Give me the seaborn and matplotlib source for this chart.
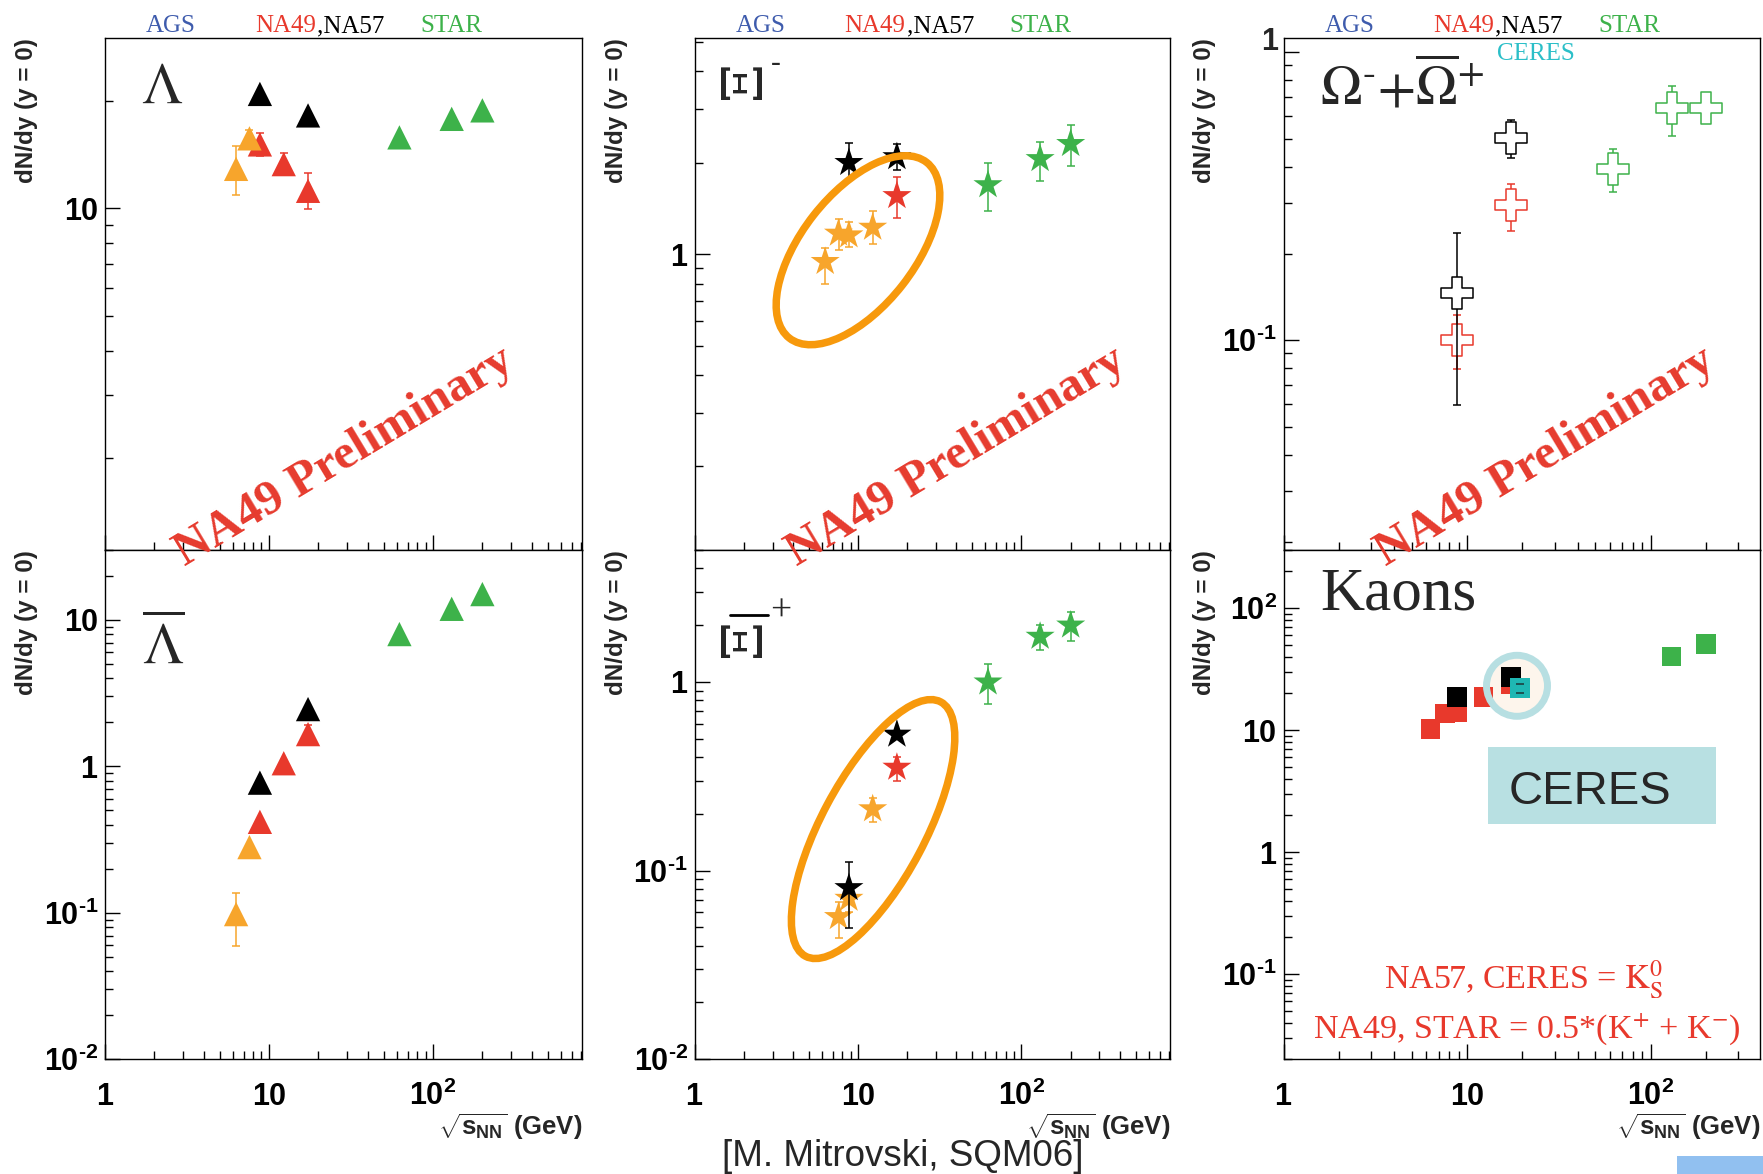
import numpy as np
import pandas as pd
import matplotlib
matplotlib.use("Agg")
import matplotlib.pyplot as plt
import matplotlib.transforms as mtransforms
from matplotlib.patches import Ellipse, Rectangle
from matplotlib.lines import Line2D
from matplotlib.ticker import LogLocator, NullFormatter, FuncFormatter
import seaborn as sns

# ---------------------------------------------------------------- data
# collision energy sqrt(s_NN) in GeV
E_NA57 = [8.8, 17.3]
E_NA49 = [8.8, 12.3, 17.3]
E_STAR = [62.4, 130.0, 200.0]

# Lambda
LAM_NA57 = [20.9, 18.2]
LAM_NA49 = [15.1, 13.3, 11.2]
LAM_NA49_LO = [14.0, 12.4, 9.95]
LAM_NA49_HI = [16.2, 14.3, 12.6]
LAM_NEW_E = [6.3, 7.6]
LAM_NEW = [12.9, 15.7]
LAM_NEW_LO = [10.9, 14.8]
LAM_NEW_HI = [14.97, 16.6]
LAM_STAR = [15.8, 17.8, 18.8]

# anti-Lambda
ALAM_NA57 = [0.774, 2.46]
ALAM_NA49 = [0.418, 1.05, 1.66]
ALAM_NA49_LO = [0.418, 1.05, 1.45]
ALAM_NA49_HI = [0.418, 1.05, 1.93]
ALAM_NEW_E = [6.3, 7.6]
ALAM_NEW = [0.098, 0.281]
ALAM_NEW_LO = [0.0597, 0.281]
ALAM_NEW_HI = [0.137, 0.281]
ALAM_STAR = [8.0, 11.9, 15.0]

# Xi-
XI_NA57 = [2.0, 2.09]
XI_NA57_LO = [1.75, 1.9]
XI_NA57_HI = [2.33, 2.3]
XI_NA49_E = [17.3]
XI_NA49 = [1.556]
XI_NA49_LO = [1.32]
XI_NA49_HI = [1.79]
XI_NEW_E = [6.3, 7.6, 8.8, 12.3]
XI_NEW = [0.944, 1.17, 1.155, 1.224]
XI_NEW_LO = [0.797, 1.03, 1.055, 1.08]
XI_NEW_HI = [1.05, 1.31, 1.28, 1.39]
XI_STAR = [1.69, 2.06, 2.31]
XI_STAR_LO = [1.39, 1.74, 1.95]
XI_STAR_HI = [1.99, 2.34, 2.66]

# anti-Xi+
AXI_NA57 = [0.081, 0.527]
AXI_NA57_LO = [0.0494, 0.527]
AXI_NA57_HI = [0.111, 0.527]
AXI_NA49_E = [17.3]
AXI_NA49 = [0.352]
AXI_NA49_LO = [0.299]
AXI_NA49_HI = [0.399]
AXI_NEW_E = [7.6, 8.8, 12.3]
AXI_NEW = [0.0569, 0.0711, 0.212]
AXI_NEW_LO = [0.0441, 0.060, 0.181]
AXI_NEW_HI = [0.068, 0.083, 0.242]
AXI_STAR = [0.996, 1.74, 1.995]
AXI_STAR_LO = [0.76, 1.48, 1.65]
AXI_STAR_HI = [1.25, 2.0, 2.34]

# Omega- + anti-Omega+
OM_NA57 = [0.1465, 0.502]
OM_NA57_LO = [0.0597, 0.43]
OM_NA57_HI = [0.235, 0.583]
OM_NA49_E = [8.8, 17.3]
OM_NA49 = [0.100, 0.294]
OM_NA49_LO = [0.0797, 0.239]
OM_NA49_HI = [0.122, 0.348]
OM_STAR = [0.392, 0.641, 0.641]
OM_STAR_LO = [0.327, 0.513, 0.641]
OM_STAR_HI = [0.461, 0.761, 0.641]

# kaons
K_NA49_E = [6.3, 7.6, 8.8, 12.3, 17.3]
K_NA49 = [10.2, 13.7, 14.1, 18.7, 23.6]
K_NA57 = [18.7, 27.2]
K_CERES_E = [19.4]
K_CERES = [22.2]
K_CERES_LO = [20.0]
K_CERES_HI = [23.8]
K_STAR_E = [130.0, 200.0]
K_STAR = [40.0, 51.0]

# highlight shapes (centre in data units, size in pixels, angle in degrees)
XI_RING = (10.0, 1.03, 223, 113, 52)
AXI_RING = (12.37, 0.166, 288, 104, 62)
CERES_SPOT = (18.7, 23.1, 61)

X_TICK_LABELS = {0: "1", 1: "10"}

# ---------------------------------------------------------------- style
sns.set_theme(style="ticks")
plt.rcParams.update({
    "font.family": ["Liberation Sans", "DejaVu Sans"],
    "mathtext.fontset": "custom",
    "mathtext.rm": "Liberation Sans:bold",
    "mathtext.it": "Liberation Sans:bold",
    "mathtext.bf": "Liberation Sans:bold",
    "mathtext.sf": "Liberation Sans:bold",
    "axes.edgecolor": "black",
    "axes.linewidth": 1.0,
    "xtick.color": "black",
    "ytick.color": "black",
    "axes.facecolor": "white",
    "figure.facecolor": "white",
})

RED = "#e8392c"
ORANGE = "#f7a52c"
GREEN = "#3db24a"
CYAN = "#1fb7b3"
BLUE = "#3f5cad"
RING = "#f7990c"

W, H, DPI = 1763, 1174, 100
fig = plt.figure(figsize=(W / DPI, H / DPI), dpi=DPI)


def fx(px):
    return px / W


def fy(py):
    return 1 - py / H


COLS = [(105.0, 582.0), (694.5, 1170.0), (1283.5, 1760.0)]
ROWS = [(38.3, 550.0), (550.0, 1059.3)]
XMAX = [810.0, 810.0, 394.0]


def make_axes(col, row, ylim):
    x0, x1 = COLS[col]
    y0, y1 = ROWS[row]
    ax = fig.add_axes([fx(x0), fy(y1), (x1 - x0) / W, (y1 - y0) / H])
    ax.set_xscale("log")
    ax.set_yscale("log")
    ax.set_xlim(1.0, XMAX[col])
    ax.set_ylim(*ylim)
    return ax


def tick_text(v, pos):
    e = int(round(np.log10(v)))
    if e in X_TICK_LABELS:
        return "$%s$" % X_TICK_LABELS[e]
    if e < 0:
        return r"$10^{\text{-}%d}$" % (-e)
    return "$10^{%d}$" % e


def style_axes(ax, col, row):
    for axis in (ax.xaxis, ax.yaxis):
        axis.set_major_locator(LogLocator(base=10, numticks=30))
        axis.set_minor_locator(LogLocator(base=10, subs=np.arange(2, 10), numticks=60))
        axis.set_major_formatter(FuncFormatter(tick_text))
        axis.set_minor_formatter(NullFormatter())
    ax.tick_params(which="both", direction="in", top=False, right=False, width=1.0)
    ax.tick_params(which="major", length=11)
    ax.tick_params(which="minor", length=5.5)
    ax.tick_params(axis="y", labelsize=22, pad=4.7)
    ax.tick_params(axis="x", labelsize=22, pad=33)
    for sp in ax.spines.values():
        sp.set_visible(True)
        sp.set_linewidth(1.0)
        sp.set_color("black")
    x0, x1 = COLS[col]
    ax.set_ylabel("dN/dy (y = 0)", fontsize=17.5, fontweight="bold", loc="top")
    ax.yaxis.set_label_coords(-67.0 / (x1 - x0), 1.0)
    if row == 0:
        ax.tick_params(axis="x", labelbottom=False)
        ax.set_xlabel("")
    else:
        ax.set_xlabel(r"$\sqrt{s_{NN}}$ (GeV)", fontsize=18.5, fontweight="bold", loc="right")
        ax.xaxis.set_label_coords(1.0, -(1112 - 1059.3) / (ROWS[1][1] - ROWS[1][0]))
        for t in ax.xaxis.get_major_ticks():
            t.label1.set_verticalalignment("baseline")


def series(ax, x, y, color, marker, size, z, lo=None, hi=None, hollow=False):
    x = np.asarray(x, float)
    y = np.asarray(y, float)
    if lo is not None:
        err = [y - np.asarray(lo, float), np.asarray(hi, float) - y]
        ax.errorbar(x, y, yerr=err, fmt="none", ecolor=color, elinewidth=1.1,
                    capsize=3.2, capthick=1.1, zorder=z)
    df = pd.DataFrame({"energy": x, "yield": y})
    if hollow:
        sns.scatterplot(data=df, x="energy", y="yield", ax=ax, marker=marker, s=size ** 2,
                        facecolor="white", edgecolor=color, linewidth=1.1,
                        zorder=z + 0.5, legend=False)
    else:
        sns.scatterplot(data=df, x="energy", y="yield", ax=ax, marker=marker, s=size ** 2,
                        color=color, edgecolor="none", linewidth=0,
                        zorder=z + 0.5, legend=False)


def ring(ax, spec, color, lw, face="none", z=20):
    cx, cy, w, h, ang = spec
    tr = fig.dpi_scale_trans + mtransforms.ScaledTranslation(cx, cy, ax.transData)
    ax.add_patch(Ellipse((0, 0), w / DPI, h / DPI, angle=ang, transform=tr,
                         facecolor=face, edgecolor=color, linewidth=lw, zorder=z,
                         clip_on=False))


TRI, STAR_M, CROSS, SQ = 17.5, 22.0, 23.0, 14.0

# ---------------------------------------------------------------- Lambda
ax = make_axes(0, 0, (1.109, 29.9))
series(ax, E_NA49, LAM_NA49, RED, "^", TRI, 2, LAM_NA49_LO, LAM_NA49_HI)
series(ax, LAM_NEW_E, LAM_NEW, ORANGE, "^", TRI, 4, LAM_NEW_LO, LAM_NEW_HI)
series(ax, E_NA57, LAM_NA57, "black", "^", TRI, 6)
series(ax, E_STAR, LAM_STAR, GREEN, "^", TRI, 8)
style_axes(ax, 0, 0)

# ---------------------------------------------------------------- Xi-
ax = make_axes(1, 0, (0.106, 5.14))
series(ax, XI_NA49_E, XI_NA49, RED, "*", STAR_M, 2, XI_NA49_LO, XI_NA49_HI)
series(ax, XI_NEW_E, XI_NEW, ORANGE, "*", STAR_M, 4, XI_NEW_LO, XI_NEW_HI)
series(ax, E_NA57, XI_NA57, "black", "*", STAR_M, 6, XI_NA57_LO, XI_NA57_HI)
series(ax, E_STAR, XI_STAR, GREEN, "*", STAR_M, 8, XI_STAR_LO, XI_STAR_HI)
style_axes(ax, 1, 0)
ring(ax, XI_RING, RING, 5.4)

# ---------------------------------------------------------------- Omega
ax = make_axes(2, 0, (0.0187, 1.118))
series(ax, OM_NA49_E, OM_NA49, RED, "P", CROSS, 2, OM_NA49_LO, OM_NA49_HI, hollow=True)
series(ax, E_NA57, OM_NA57, "black", "P", CROSS, 6, OM_NA57_LO, OM_NA57_HI, hollow=True)
series(ax, E_STAR, OM_STAR, GREEN, "P", CROSS, 8, OM_STAR_LO, OM_STAR_HI, hollow=True)
style_axes(ax, 2, 0)
# the label of the unit tick sits just above its tick, clear of the frame
ax.yaxis.set_major_formatter(
    FuncFormatter(lambda v, p: "" if int(round(np.log10(v))) == 0 else tick_text(v, p)))
fig.text(fx(1279), fy(50.3), "$1$", fontsize=22, ha="right", va="baseline")

# ---------------------------------------------------------------- anti-Lambda
ax = make_axes(0, 1, (0.01, 30.0))
series(ax, E_NA49, ALAM_NA49, RED, "^", TRI, 2, ALAM_NA49_LO, ALAM_NA49_HI)
series(ax, ALAM_NEW_E, ALAM_NEW, ORANGE, "^", TRI, 4, ALAM_NEW_LO, ALAM_NEW_HI)
series(ax, E_NA57, ALAM_NA57, "black", "^", TRI, 6)
series(ax, E_STAR, ALAM_STAR, GREEN, "^", TRI, 8)
style_axes(ax, 0, 1)

# ---------------------------------------------------------------- anti-Xi+
ax = make_axes(1, 1, (0.01, 5.0))
series(ax, AXI_NA49_E, AXI_NA49, RED, "*", STAR_M, 2, AXI_NA49_LO, AXI_NA49_HI)
series(ax, AXI_NEW_E, AXI_NEW, ORANGE, "*", STAR_M, 4, AXI_NEW_LO, AXI_NEW_HI)
series(ax, E_NA57, AXI_NA57, "black", "*", STAR_M, 6, AXI_NA57_LO, AXI_NA57_HI)
series(ax, E_STAR, AXI_STAR, GREEN, "*", STAR_M, 8, AXI_STAR_LO, AXI_STAR_HI)
style_axes(ax, 1, 1)
ring(ax, AXI_RING, RING, 5.4)

# ---------------------------------------------------------------- kaons
ax = make_axes(2, 1, (0.02, 300.0))
cx, cy, d = CERES_SPOT
ring(ax, (cx, cy, d, d, 0), "none", 0, face="#fdf5ec", z=1.5)
series(ax, K_NA49_E, K_NA49, RED, "s", SQ, 2)
series(ax, E_NA57, K_NA57, "black", "s", SQ, 6)
series(ax, K_CERES_E, K_CERES, CYAN, "s", SQ, 7)
ax.errorbar(K_CERES_E, K_CERES,
            yerr=[np.subtract(K_CERES, K_CERES_LO), np.subtract(K_CERES_HI, K_CERES)],
            fmt="none", ecolor="#1d4a4a", elinewidth=0.0, capsize=2.6, capthick=1.3, zorder=7.8)
series(ax, K_STAR_E, K_STAR, GREEN, "s", SQ, 8)
ring(ax, (cx, cy, d, d, 0), "#b7dfe2", 5.0, z=20)
style_axes(ax, 2, 1)

# ---------------------------------------------------------------- panel titles
serif = "Liberation Serif"
fig.text(fx(141), fy(102.7), r"$\Lambda$", fontsize=42, math_fontfamily="stix",
         ha="left", va="baseline")
fig.text(fx(142), fy(664), r"$\overline{\Lambda}$", fontsize=42, math_fontfamily="stix",
         ha="left", va="baseline")
# Xi symbols, set on their side
fig.text(fx(749), fy(84), r"$\Xi$", fontsize=40, math_fontfamily="dejavuserif",
         rotation=90, ha="center", va="center")
fig.text(fx(775.5), fy(64), "-", fontsize=21, family=serif, ha="center", va="center")
fig.text(fx(749), fy(642.5), r"$\Xi$", fontsize=40, math_fontfamily="dejavuserif",
         rotation=90, ha="center", va="center")
fig.add_artist(Line2D([fx(730), fx(768)], [fy(615), fy(615)], color="black", lw=2.0))
fig.text(fx(781), fy(611), "+", fontsize=27, family=serif, ha="center", va="center")
fig.text(fx(1320), fy(105), r"$\Omega^{\text{-}}{+}\overline{\Omega}^{+}$", fontsize=40,
         math_fontfamily="stix", ha="left", va="baseline")
fig.text(fx(1320), fy(609), "Kaons", fontsize=44, family=serif, ha="left", va="baseline")

# experiment headers above the upper row
for x0, _ in COLS:
    fig.text(fx(x0 + 41), fy(32.3), "AGS", color=BLUE, fontsize=18, family=serif,
             ha="left", va="baseline")
    fig.text(fx(x0 + 211), fy(32.3), "NA49", color=RED, fontsize=18, family=serif,
             ha="right", va="baseline")
    fig.text(fx(x0 + 212), fy(32.3), ",NA57", color="black", fontsize=18, family=serif,
             ha="left", va="baseline")
    fig.text(fx(x0 + 315), fy(32.3), "STAR", color=GREEN, fontsize=18, family=serif,
             ha="left", va="baseline")
fig.text(fx(COLS[2][0] + 213.5), fy(60), "CERES", color="#2bbfc8", fontsize=18,
         family=serif, ha="left", va="baseline")

# watermark
for cxp in (344, 956, 1545):
    fig.text(fx(cxp), fy(457), "NA49 Preliminary", color="#e63b2e", fontsize=35.5,
             family=serif, fontweight="bold", rotation=31, ha="center", va="center",
             zorder=10)

# kaon notes
fig.add_artist(Rectangle((fx(1488), fy(824)), (1716 - 1488) / W, (824 - 747) / H,
                         transform=fig.transFigure, facecolor="#b8e0e2",
                         edgecolor="none", zorder=9))
fig.text(fx(1508.6), fy(804.2), "CERES", fontsize=34, ha="left", va="baseline", zorder=10)
fig.text(fx(1523.5), fy(989), r"NA57, CERES = $\mathrm{K^{0}_{S}}$", color=RED,
         fontsize=24.5, family=serif, math_fontfamily="stix", ha="center", va="baseline")
fig.text(fx(1527), fy(1038), r"NA49, STAR = 0.5*(K$^{+}$ + K$^{-}$)", color=RED,
         fontsize=24.5, family=serif, math_fontfamily="stix", ha="center", va="baseline")

# reference and corner tab
fig.text(fx(903), fy(1157), "[M. Mitrovski, SQM06]", fontsize=26.5, ha="center",
         va="center", zorder=10)
fig.add_artist(Rectangle((fx(1677), 0), (W - 1677) / W, 18 / H, transform=fig.transFigure,
                         facecolor="#91c0f0", edgecolor="none"))

fig.savefig("out.png", dpi=DPI)
